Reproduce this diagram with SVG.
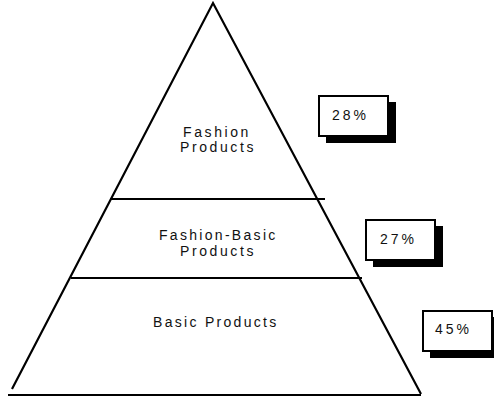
<svg xmlns="http://www.w3.org/2000/svg" width="494" height="398" viewBox="0 0 494 398">
  <style>
    .edge { fill: none; stroke: #000; stroke-width: 2.2; }
    .rule { fill: none; stroke: #000; stroke-width: 1.8; }
    .label { font-family: "Liberation Sans", Arial, sans-serif; font-size: 14px; letter-spacing: 2.6px; fill: #111; }
    .tight { letter-spacing: 2.3px; }
    .pct { font-family: "Liberation Sans", Arial, sans-serif; font-size: 14px; letter-spacing: 3px; fill: #111; }
    .card { fill: #fff; stroke: #000; stroke-width: 2; }
    .shadow { fill: #000; }
  </style>
  <rect width="494" height="398" fill="#fff"/>

  <g id="connectors">
    <!-- pyramid outline -->
    <polyline class="edge" points="12,389 213,3 421,394"/>
    <line class="edge" x1="8" y1="395" x2="421" y2="395"/>
    <!-- tier dividers -->
    <line class="rule" x1="110" y1="199" x2="325" y2="199"/>
    <line class="rule" x1="71" y1="278" x2="362" y2="278"/>
  </g>

  <g id="tier-fashion">
    <text class="label" x="183" y="137">Fashion</text>
    <text class="label" x="180" y="152">Products</text>
  </g>

  <g id="tier-fashion-basic">
    <text class="label tight" x="159" y="240">Fashion-Basic</text>
    <text class="label" x="180" y="256">Products</text>
  </g>

  <g id="tier-basic">
    <text class="label tight" x="153" y="327">Basic Products</text>
  </g>

  <g id="share-28">
    <rect class="shadow" x="326" y="102" width="70" height="41"/>
    <rect class="card" x="319" y="96" width="69" height="40"/>
    <text class="pct" x="332" y="120">28%</text>
  </g>

  <g id="share-27">
    <rect class="shadow" x="373" y="226" width="70" height="41"/>
    <rect class="card" x="366" y="220" width="69" height="40"/>
    <text class="pct" x="380" y="244">27%</text>
  </g>

  <g id="share-45">
    <rect class="shadow" x="430" y="317" width="70" height="41"/>
    <rect class="card" x="423" y="311" width="69" height="40"/>
    <text class="pct" x="435" y="334">45%</text>
  </g>
</svg>
